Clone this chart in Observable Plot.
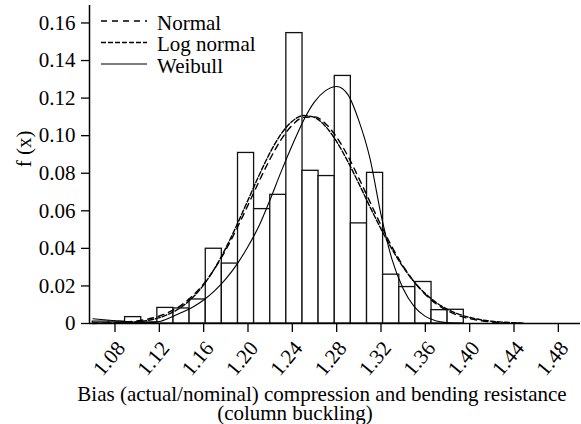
<!DOCTYPE html>
<html><head><meta charset="utf-8">
<script src="https://cdn.jsdelivr.net/npm/d3@7"></script>
<script src="https://cdn.jsdelivr.net/npm/@observablehq/plot@0.6"></script>
<style>html,body{margin:0;padding:0;background:#fff;} svg{display:block}</style>
</head><body><div id="chart"></div>
<script>
// ---- data ----
const binEdges = [1.0600, 1.0746, 1.0891, 1.1037, 1.1182, 1.1328, 1.1473, 1.1619, 1.1764, 1.1910, 1.2055, 1.2201,
                  1.2346, 1.2492, 1.2637, 1.2783, 1.2928, 1.3074, 1.3219, 1.3365, 1.3510, 1.3656, 1.3801, 1.3947];
const frequencies = [0.0010, 0.0010, 0.0034, 0.0005, 0.0083, 0.0080, 0.0128, 0.0398, 0.0319, 0.0908, 0.0609, 0.0685,
                     0.1546, 0.0813, 0.0785, 0.1318, 0.0533, 0.0802, 0.0260, 0.0194, 0.0221, 0.0071, 0.0073];
const curveX = [1.06, 1.07, 1.08, 1.09, 1.10, 1.11, 1.12, 1.13, 1.14, 1.15, 1.16, 1.17, 1.18, 1.19, 1.20,
                1.21, 1.22, 1.23, 1.24, 1.25, 1.26, 1.27, 1.28, 1.29, 1.30, 1.31, 1.32, 1.33, 1.34, 1.35,
                1.36, 1.37, 1.38, 1.39, 1.40, 1.41, 1.42, 1.43, 1.44, 1.45];
const normalY = [0.0001, 0.0002, 0.0004, 0.0008, 0.0014, 0.0024, 0.0040, 0.0064, 0.0098, 0.0147, 0.0211, 0.0293, 0.0392, 0.0506, 0.0630,
                 0.0757, 0.0877, 0.0980, 0.1056, 0.1097, 0.1100, 0.1064, 0.0992, 0.0893, 0.0774, 0.0648, 0.0523, 0.0407, 0.0306, 0.0221,
                 0.0155, 0.0104, 0.0068, 0.0042, 0.0026, 0.0015, 0.0008, 0.0005, 0.0002, 0.0001];
const lognormalY = [0.0000, 0.0001, 0.0002, 0.0004, 0.0009, 0.0017, 0.0031, 0.0054, 0.0088, 0.0138, 0.0206, 0.0294, 0.0402, 0.0525, 0.0657,
                    0.0789, 0.0911, 0.1010, 0.1077, 0.1107, 0.1097, 0.1049, 0.0968, 0.0863, 0.0745, 0.0622, 0.0503, 0.0395, 0.0300, 0.0221,
                    0.0159, 0.0111, 0.0075, 0.0050, 0.0032, 0.0020, 0.0012, 0.0007, 0.0004, 0.0002];
const weibullY = [0.0025, 0.0020, 0.0015, 0.0010, 0.0007, 0.0007, 0.0011, 0.0032, 0.0058, 0.0087, 0.0125, 0.0175, 0.0238, 0.0315, 0.0410,
                  0.0520, 0.0660, 0.0810, 0.0950, 0.1080, 0.1180, 0.1240, 0.1262, 0.1220, 0.1080, 0.0880, 0.0580, 0.0340, 0.0185, 0.0090,
                  0.0038, 0.0013, 0.0004, 0.0001, 0.0000, 0.0000, 0.0000, 0.0000, 0.0000, 0.0000];
const xTicks = [1.08, 1.12, 1.16, 1.20, 1.24, 1.28, 1.32, 1.36, 1.40, 1.44, 1.48];
const yTicks = [0, 0.02, 0.04, 0.06, 0.08, 0.10, 0.12, 0.14, 0.16];
const xDomain = [1.057, 1.5];
const yDomain = [0, 0.1693];
const seriesNames = ["Normal", "Log normal", "Weibull"];
const xTitle = ["Bias (actual/nominal) compression and bending resistance", "(column buckling)"];
const yTitle = "f (x)";

// ---- build tables ----
const bars = frequencies.map((f, i) => ({x1: binEdges[i], x2: binEdges[i + 1], f}));
const toPts = (ys) => curveX.map((x, i) => ({x, y: ys[i]}));
const dashes = {"Normal": "6,5", "Log normal": "5,2", "Weibull": null};
const seriesY = {"Normal": normalY, "Log normal": lognormalY, "Weibull": weibullY};
const font = "'Liberation Serif', 'Times New Roman', Times, serif";

const plot = Plot.plot({
  width: 581, height: 424,
  marginTop: 5, marginBottom: 101, marginLeft: 89, marginRight: 1,
  style: {fontFamily: font, fontSize: "21px", color: "#000", background: "#fff", overflow: "visible"},
  x: {domain: xDomain},
  y: {domain: yDomain},
  marks: [
    Plot.rectY(bars, {x1: "x1", x2: "x2", y: "f", fill: "white", stroke: "#111", strokeWidth: 1.3}),
    ...seriesNames.map(n => Plot.line(toPts(seriesY[n]), {
      x: "x", y: "y", curve: "monotone-x", stroke: "#000",
      strokeWidth: n === "Weibull" ? 1.1 : 1.4, strokeDasharray: dashes[n]
    })),
    Plot.ruleY([yDomain[0]], {stroke: "#000", strokeWidth: 1.5}),
    Plot.ruleX([xDomain[0]], {stroke: "#000", strokeWidth: 1.5}),
    Plot.axisX({ticks: xTicks, tickFormat: d => d.toFixed(2), tickSize: 9, strokeWidth: 1.3,
                text: null, label: null}),
    Plot.axisX({ticks: xTicks, tickFormat: d => d.toFixed(2), tickRotate: -50, tickSize: 0,
                tickPadding: 18, dx: 6, dy: 3, label: null}),
    Plot.axisY({ticks: yTicks, tickFormat: d => d === 0 ? "0" : d.toFixed(2), tickSize: 8,
                tickPadding: 6, label: null, strokeWidth: 1.3})
  ]
});
document.getElementById("chart").appendChild(plot);

// ---- legend and titles ----
const svg = d3.select(plot);
const lg = svg.append("g").attr("font-family", font).attr("font-size", 21).attr("text-anchor", "start");
const legendLineY = [21, 42.5, 64];
const legendTextY = [29.5, 51, 73];
seriesNames.forEach((n, i) => {
  lg.append("line").attr("x1", 101).attr("x2", 147).attr("y1", legendLineY[i]).attr("y2", legendLineY[i])
    .attr("stroke", "#000").attr("stroke-width", n === "Weibull" ? 1.2 : 1.5)
    .attr("stroke-dasharray", dashes[n]);
  lg.append("text").attr("x", 157).attr("y", legendTextY[i]).text(n);
});
const tg = svg.append("g").attr("font-family", font).attr("font-size", 21).attr("text-anchor", "middle");
tg.append("text").attr("x", 322).attr("y", 401).text(xTitle[0]);
tg.append("text").attr("x", 295).attr("y", 420).text(xTitle[1]);
tg.append("text").attr("transform", "translate(31,149) rotate(-90)").text(yTitle);
</script>
</body></html>
